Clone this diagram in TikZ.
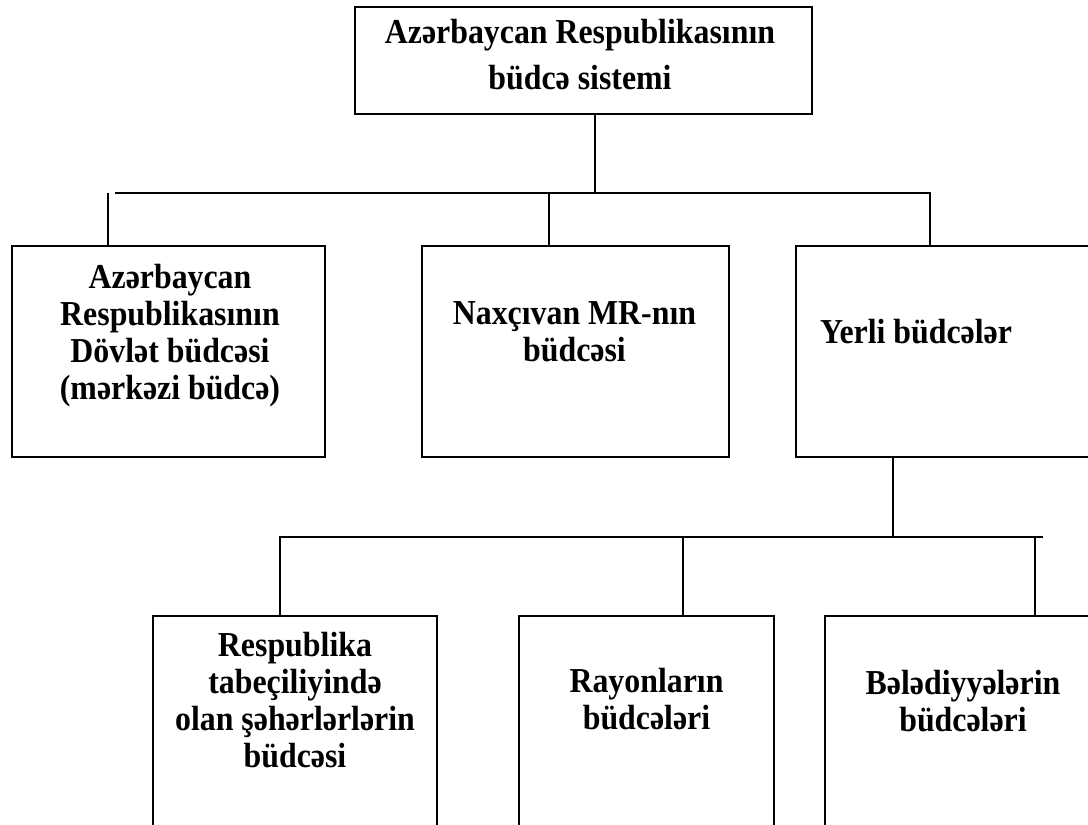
\documentclass[tikz,border=0pt]{standalone}
\usepackage{fontspec}
\setmainfont{Liberation Serif}[FakeStretch=0.91]
\begin{document}
\begin{tikzpicture}[x=0.5pt, y=-0.5pt, line width=1pt, line join=miter,
		box/.style={draw, inner sep=0pt, minimum height=105.5pt},
		lowbox/.style={draw, inner sep=0pt, minimum height=117pt},
		txt/.style={font=\fontsize{17.5}{18.4}\selectfont\bfseries, align=center, inner sep=0pt, anchor=base}]
		\useasboundingbox (0,0) rectangle (1088,825);
		\clip (0,0) rectangle (1088,825);
		\node[draw, inner sep=0pt, minimum width=228.5pt, minimum height=53.5pt] (root) at (583.5,60.5) {};
		\node[box, minimum width=156.5pt] (dovlet) at (168.5,351.5) {};
		\node[box, minimum width=153.5pt] (naxcivan) at (575.5,351.5) {};
		\node[box, minimum width=153.5pt] (yerli) at (949.5,351.5) {};
		\node[lowbox, minimum width=142pt] (seher) at (295,733) {};
		\node[lowbox, minimum width=127.5pt] (rayon) at (646.5,733) {};
		\node[lowbox, minimum width=138pt] (belediyye) at (963,733) {};
		\node[txt, font=\fontsize{17.5}{23}\selectfont\bfseries] (rootlbl) at (580,89) {Azərbaycan Respublikasının\\büdcə sistemi};
		\node[txt] (dovletlbl) at (170,399) {Azərbaycan\\Respublikasının\\Dövlət büdcəsi\\(mərkəzi büdcə)};
		\node[txt] (naxcivanlbl) at (574.5,361) {Naxçıvan MR-nın\\büdcəsi};
		\node[txt, anchor=base west] (yerlilbl) at (819,343) {Yerli büdcələr};
		\node[txt] (seherlbl) at (295,767) {Respublika\\tabeçiliyində\\olan şəhərlərlərin\\büdcəsi};
		\node[txt] (rayonlbl) at (646.5,729) {Rayonların\\büdcələri};
		\node[txt] (belediyyelbl) at (963,731) {Bələdiyyələrin\\büdcələri};
		\coordinate (top) at (595,193); \coordinate (topl) at (115,193); \coordinate (topr) at (930,193);
		\coordinate (dl) at (108,193); \coordinate (nl) at (549,193);
		\draw (root.south -| top)--(top);
		\draw (topl)--(topr)--(topr |- yerli.north);
		\draw (dl)--(dl |- dovlet.north);
		\draw (nl)--(nl |- naxcivan.north);
		\coordinate (mid) at (893,537); \coordinate (midl) at (280,537); \coordinate (midr) at (1043,537);
		\coordinate (bl) at (683,537); \coordinate (br) at (1035,537);
		\draw (yerli.south -| mid)--(mid);
		\draw (midr)--(midl)--(midl |- seher.north);
		\draw (bl)--(bl |- rayon.north);
		\draw (br)--(br |- belediyye.north);
\end{tikzpicture}
\end{document}
